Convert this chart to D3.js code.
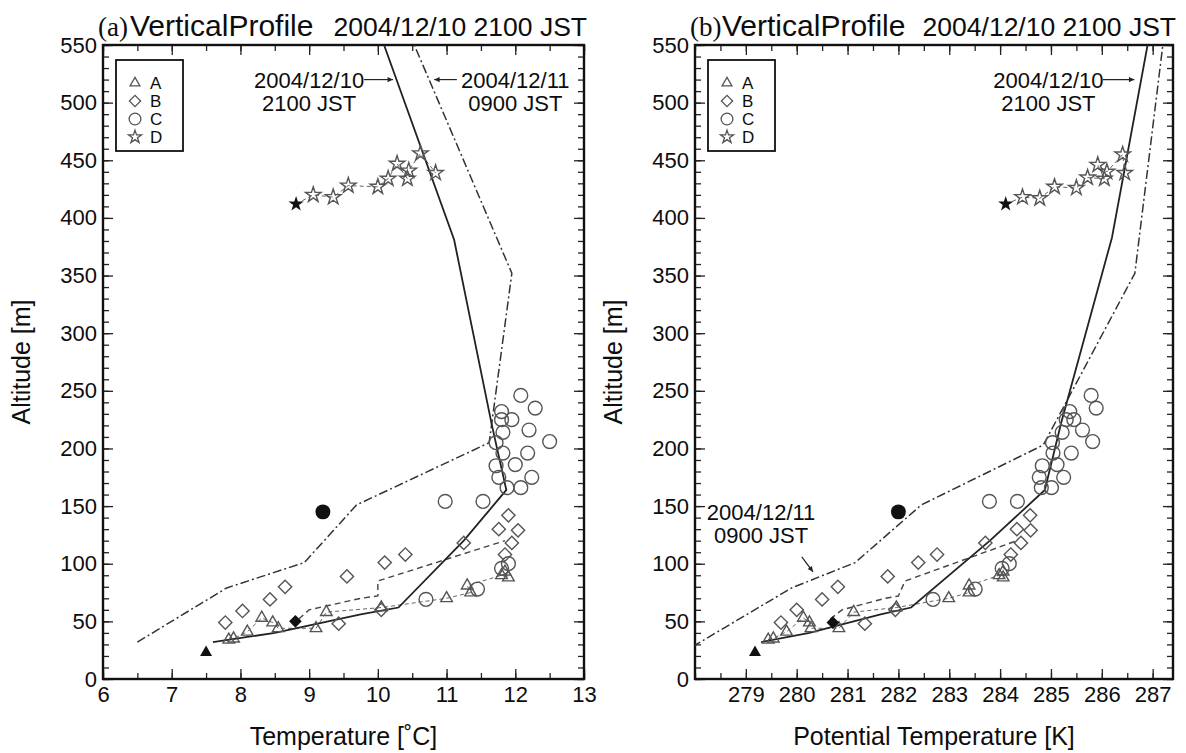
<!DOCTYPE html>
<html>
<head>
<meta charset="utf-8">
<script src="https://cdn.jsdelivr.net/npm/d3@7"></script>
<style>
  body { margin: 0; background: #fff; }
  svg { display: block; }
  text { font-family: "Liberation Sans", Arial, sans-serif; fill: #0d0d0d; }
</style>
</head>
<body>
<svg id="chart" width="1186" height="753"></svg>
<script>
// ---- data ----
const altTicks = [0, 50, 100, 150, 200, 250, 300, 350, 400, 450, 500, 550];
const tempTicks = [6, 7, 8, 9, 10, 11, 12, 13];
const thetaTicks = [279, 280, 281, 282, 283, 284, 285, 286, 287];
const legendNames = ["A", "B", "C", "D"];

// (a) temperature [deg C] vs altitude [m]
const tSolid = [[7.6,32],[8.5,40],[9.75,56],[10.3,62],[11.25,120],[11.87,164],[11.66,220],[11.11,381],[10.09,550]];
const tDashDot = [[6.5,32],[7.8,79],[8.93,101],[9.69,151],[11.62,205],[11.95,352],[10.53,550]];
const tDashed = [[8.85,52],[9.0,60],[9.75,70],[10.0,72],[10.0,85],[11.85,120]];
const tA = [[7.83,34],[7.9,35],[8.1,41],[8.31,53],[8.47,49],[8.55,44],[9.1,44],[9.25,58],[10.05,62],[11.0,70],[11.35,75],[11.3,81],[11.8,90],[11.9,88],[11.85,93]];
const tB = [[7.78,49],[8.03,59],[8.43,69],[8.65,80],[9.55,89],[9.43,48],[10.1,101],[10.4,108],[10.05,60],[11.25,118],[11.9,142],[11.76,130],[12.04,129],[11.95,118],[11.85,108]];
const tC = [[12.08,246],[12.29,235],[11.8,232],[11.95,225],[11.8,225],[12.2,216],[11.82,214],[12.5,206],[11.72,205],[12.18,196],[11.82,196],[11.72,185],[12.0,186],[11.76,175],[12.24,175],[12.08,166],[11.88,166],[10.98,154],[11.53,154],[10.7,69],[11.45,78],[11.8,96],[11.9,100]];
const tD = [[8.81,412],[9.06,420],[9.35,418],[9.57,428],[10.0,427],[10.15,434],[10.28,447],[10.43,434],[10.45,441],[10.62,456],[10.84,439]];
const tStart = { A: [7.5,23], B: [8.8,50], C: [9.2,145], D: [8.81,412] };

// (b) potential temperature [K] vs altitude [m]
const pSolid = [[279.3,32],[280.25,40],[281.65,56],[282.25,62],[283.8,120],[284.88,164],[285.2,222],[286.2,383],[286.9,550]];
const pDashDot = [[277.95,28],[279.9,79],[281.15,101],[282.45,151],[284.85,203],[286.65,352],[287.2,550]];
const pDashed = [[280.66,52],[280.89,60],[281.74,70],[282.0,72],[282.13,85],[284.33,120]];
const pA = [[279.44,34],[279.54,35],[279.8,41],[280.13,53],[280.25,49],[280.28,44],[280.83,44],[281.12,58],[281.96,62],[282.99,70],[283.39,75],[283.39,81],[283.98,90],[284.06,88],[284.06,93]];
const pB = [[279.69,49],[280.0,60],[280.5,69],[280.81,80],[281.79,89],[281.34,48],[282.39,101],[282.76,108],[281.94,60],[283.71,118],[284.59,142],[284.33,130],[284.6,129],[284.41,118],[284.21,108]];
const pC = [[285.79,246],[285.89,235],[285.37,232],[285.45,225],[285.3,225],[285.62,216],[285.22,214],[285.82,206],[285.03,205],[285.4,196],[285.04,196],[284.83,185],[285.12,186],[284.77,175],[285.25,175],[285.01,166],[284.81,166],[283.79,154],[284.34,154],[282.68,69],[283.51,78],[284.04,96],[284.18,100]];
const pD = [[284.11,412],[284.44,418],[284.78,417],[285.07,427],[285.5,426],[285.72,435],[286.05,434],[285.92,446],[286.1,440],[286.41,455],[286.45,439]];
const pStart = { A: [279.18,23], B: [280.71,49], C: [282.0,145], D: [284.11,412] };

const svg = d3.select("#chart");

// diamond = square turned 45 degrees
const shapes = {
    A: { type: d3.symbolTriangle, size: 58, rot: 0 },
    B: { type: d3.symbolSquare, size: 88, rot: 45 },
    C: { type: d3.symbolCircle, size: 150, rot: 0 },
    D: { type: d3.symbolStar, size: 74, rot: 0 }
};
const startSize = { A: 62, B: 80, C: 175, D: 72 };

function marker(k, size) {
    return d3.symbol().type(shapes[k].type).size(size || shapes[k].size)();
}

function drawPanel(opt) {
    const x = d3.scaleLinear().domain(opt.xDomain).range(opt.xRange);
    const y = d3.scaleLinear().domain([0, 550]).range([679, 45]);
    const [x0, x1] = opt.xRange;
    const g = svg.append("g");

    const clipId = "clip-" + opt.id;
    svg.append("clipPath").attr("id", clipId)
        .append("rect").attr("x", x0).attr("y", 45).attr("width", x1 - x0).attr("height", 634);

    // axes, ticks pointing inward
    const minorX = d3.range(opt.xDomain[0], opt.xDomain[1] + 0.001, 0.5);
    const minorY = d3.range(0, 551, 10);
    const axes = [
        [d3.axisBottom(x).tickValues(opt.xTicks).tickSize(-10).tickPadding(7).tickFormat(d3.format("d")), `translate(0,679)`],
        [d3.axisBottom(x).tickValues(minorX).tickSize(-6).tickFormat(""), `translate(0,679)`],
        [d3.axisTop(x).tickValues(opt.xTicks).tickSize(-10).tickFormat(""), `translate(0,45)`],
        [d3.axisTop(x).tickValues(minorX).tickSize(-6).tickFormat(""), `translate(0,45)`],
        [d3.axisLeft(y).tickValues(altTicks).tickSize(-10).tickPadding(6), `translate(${x0},0)`],
        [d3.axisLeft(y).tickValues(minorY).tickSize(-6).tickFormat(""), `translate(${x0},0)`],
        [d3.axisRight(y).tickValues(altTicks).tickSize(-10).tickFormat(""), `translate(${x1},0)`],
        [d3.axisRight(y).tickValues(minorY).tickSize(-6).tickFormat(""), `translate(${x1},0)`]
    ];
    axes.forEach(([ax, tr]) => {
        const a = g.append("g").attr("transform", tr).call(ax);
        a.select(".domain").remove();
        a.selectAll("line").attr("stroke", "#222").attr("stroke-width", 1.3);
        a.selectAll("text").style("font-size", "22px").attr("fill", "#0d0d0d");
    });

    g.append("rect")
        .attr("x", x0).attr("y", 45).attr("width", x1 - x0).attr("height", 634)
        .attr("fill", "none").attr("stroke", "#111").attr("stroke-width", 2.4);

    const plot = g.append("g").attr("clip-path", `url(#${clipId})`);
    const line = d3.line().x(d => x(d[0])).y(d => y(d[1]));

    // thin connectors between the probe samples
    [opt.A, opt.D].forEach(s => {
        plot.append("path").datum(s).attr("d", line)
            .attr("fill", "none").attr("stroke", "#666").attr("stroke-width", 1)
            .attr("stroke-dasharray", "4,3");
    });

    plot.append("path").datum(opt.dashed).attr("d", line)
        .attr("fill", "none").attr("stroke", "#444").attr("stroke-width", 1.4)
        .attr("stroke-dasharray", "6,4");
    plot.append("path").datum(opt.dashDot).attr("d", line)
        .attr("fill", "none").attr("stroke", "#333").attr("stroke-width", 1.5)
        .attr("stroke-dasharray", "9,3,2,3");
    plot.append("path").datum(opt.solid).attr("d", line)
        .attr("fill", "none").attr("stroke", "#222").attr("stroke-width", 1.8);

    // open markers
    const series = { A: opt.A, B: opt.B, C: opt.C, D: opt.D.slice(1) };
    Object.keys(series).forEach(k => {
        plot.selectAll(".m" + k)
            .data(series[k])
            .enter().append("path")
            .attr("transform", d => `translate(${x(d[0])},${y(d[1])}) rotate(${shapes[k].rot})`)
            .attr("d", marker(k))
            .attr("fill", "none")
            .attr("stroke", "#555")
            .attr("stroke-width", 1.4);
    });

    // filled start markers
    Object.keys(opt.start).forEach(k => {
        const d = opt.start[k];
        plot.append("path")
            .attr("transform", `translate(${x(d[0])},${y(d[1])}) rotate(${shapes[k].rot})`)
            .attr("d", marker(k, startSize[k]))
            .attr("fill", "#111");
    });

    // legend
    const lg = g.append("g");
    lg.append("rect")
        .attr("x", x0 + 13).attr("y", 60).attr("width", 67).attr("height", 91)
        .attr("fill", "#fff").attr("stroke", "#111").attr("stroke-width", 1.8);
    legendNames.forEach((k, i) => {
        const yy = 83 + i * 18;
        lg.append("path")
            .attr("transform", `translate(${x0 + 32},${yy}) rotate(${shapes[k].rot})`)
            .attr("d", marker(k, shapes[k].size * 0.72))
            .attr("fill", "none").attr("stroke", "#555").attr("stroke-width", 1.3);
        lg.append("text")
            .attr("x", x0 + 47).attr("y", yy + 6)
            .style("font-size", "17px")
            .text(k);
    });

    // titles
    g.append("text").attr("x", x0 - 5).attr("y", 36)
        .style("font-family", "'Liberation Serif', 'Times New Roman', serif")
        .style("font-size", "27px").text(opt.tag);
    g.append("text").attr("x", x0 + 27).attr("y", 36)
        .style("font-size", "30px").text("VerticalProfile");
    g.append("text").attr("x", x1 + 3).attr("y", 36)
        .attr("text-anchor", "end")
        .style("font-size", "26.5px").text("2004/12/10 2100 JST");

    g.append("text")
        .attr("x", (x0 + x1) / 2).attr("y", 745)
        .attr("text-anchor", "middle")
        .style("font-size", "25px").text(opt.xLabel);
    g.append("text")
        .attr("transform", `translate(${x0 - 73},${y(275)}) rotate(-90)`)
        .attr("text-anchor", "middle")
        .style("font-size", "25px").text("Altitude [m]");

    // annotations with arrows
    opt.notes.forEach(n => {
        const t = g.append("text")
            .attr("x", x(n.tx)).attr("y", y(n.ty))
            .attr("text-anchor", "middle")
            .style("font-size", "22px");
        t.append("tspan").attr("x", x(n.tx)).text(n.lines[0]);
        t.append("tspan").attr("x", x(n.tx)).attr("dy", 23).text(n.lines[1]);
        const ax1 = x(n.from[0]), ay1 = y(n.from[1]), ax2 = x(n.to[0]), ay2 = y(n.to[1]);
        g.append("line")
            .attr("x1", ax1).attr("y1", ay1).attr("x2", ax2).attr("y2", ay2)
            .attr("stroke", "#222").attr("stroke-width", 1.2);
        const ang = Math.atan2(ay2 - ay1, ax2 - ax1);
        const h = 6;
        g.append("path")
            .attr("d", `M${ax2},${ay2} L${ax2 - h * Math.cos(ang - 0.45)},${ay2 - h * Math.sin(ang - 0.45)} L${ax2 - h * Math.cos(ang + 0.45)},${ay2 - h * Math.sin(ang + 0.45)} Z`)
            .attr("fill", "#222");
    });
}

drawPanel({
    id: "a", tag: "(a)",
    xDomain: [6, 13], xRange: [103, 584], xTicks: tempTicks,
    xLabel: "Temperature [˚C]",
    solid: tSolid, dashDot: tDashDot, dashed: tDashed,
    A: tA, B: tB, C: tC, D: tD, start: tStart,
    notes: [
        { tx: 9.0, ty: 513, lines: ["2004/12/10", "2100 JST"], from: [9.8, 520], to: [10.22, 520] },
        { tx: 12.0, ty: 513, lines: ["2004/12/11", "0900 JST"], from: [11.15, 520], to: [10.82, 520] }
    ]
});

drawPanel({
    id: "b", tag: "(b)",
    xDomain: [278, 287.4], xRange: [695, 1173], xTicks: thetaTicks,
    xLabel: "Potential Temperature [K]",
    solid: pSolid, dashDot: pDashDot, dashed: pDashed,
    A: pA, B: pB, C: pC, D: pD, start: pStart,
    notes: [
        { tx: 284.95, ty: 513, lines: ["2004/12/10", "2100 JST"], from: [286.02, 520], to: [286.64, 520] },
        { tx: 279.3, ty: 138, lines: ["2004/12/11", "0900 JST"], from: [280.1, 106], to: [280.32, 93] }
    ]
});
</script>
</body>
</html>
